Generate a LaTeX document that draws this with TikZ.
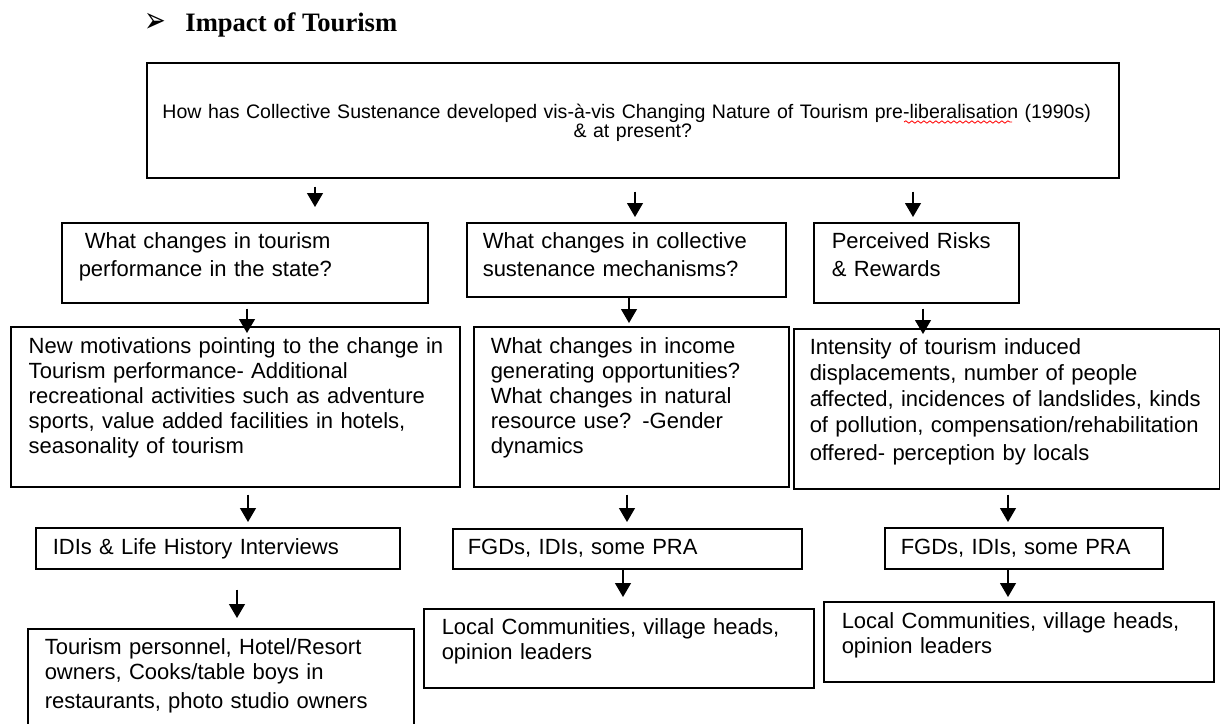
\documentclass[tikz,border=0pt]{standalone}
\usepackage{fontspec}
\setmainfont{Liberation Sans}
\newfontfamily\titlefont{Liberation Serif}
\newfontfamily\symfont{DejaVu Sans}
\usetikzlibrary{arrows.meta,decorations.pathmorphing}
\begin{document}
\begin{tikzpicture}[x=0.5pt,y=-0.5pt,
  box/.style={draw, line width=0.75pt, anchor=north west, inner ysep=0pt, align=left},
  bodytext/.style={font=\fontsize{11}{12.5}\selectfont},
  headtext/.style={font=\fontsize{11}{14}\selectfont},
  arr/.style={line width=0.6pt, -{Triangle[width=8pt,length=7pt]}},
  squiggle/.style={red, line width=0.4pt, decorate, decoration={snake, amplitude=0.6pt, segment length=3pt}}
  ]
\useasboundingbox (0,0) rectangle (1220,723);
\clip (0,0) rectangle (1220,723);

% title
\node[anchor=center, inner sep=0pt, font=\symfont\fontsize{18}{20}\selectfont] (bullet) at (155,22.5) {\scalebox{0.72}[1]{➢}};
\node[anchor=base west, inner sep=0pt, font=\titlefont\bfseries\fontsize{13.3}{16}\selectfont] (title) at (185,31) {Impact of Tourism};

% top question
\node[box, align=center, text width=486pt, inner xsep=0pt, text height=28pt, text depth=29.5pt,
      font={\fontsize{9.77}{9.5}\selectfont\lineskiplimit=-20pt}] (T) at (146,62)
  {How has Collective Sustenance developed vis-à-vis Changing Nature of Tourism pre-liberalisation (1990s)\kern6pt\\ \& at present?};
\draw[squiggle] (904,122) -- (1012,122);

% level 1
\node[box, headtext, minimum width=183pt, text width=166pt, inner xsep=8.5pt, text height=13pt, text depth=27pt] (A1) at (61,222)
  {\hspace*{3pt}What changes in tourism\\performance in the state?};
\node[box, headtext, minimum width=159.5pt, text width=143.5pt, inner xsep=8pt, text height=13pt, text depth=24pt] (B1) at (466,222)
  {What changes in collective\\sustenance mechanisms?};
\node[box, headtext, minimum width=102.5pt, text width=84.5pt, inner xsep=9pt, text height=13pt, text depth=27pt] (C1) at (813,222)
  {Perceived Risks\\\& Rewards};

% level 2
\node[box, bodytext, minimum width=224.5pt, text width=206.5pt, inner xsep=9pt, text height=13.5pt, text depth=66.5pt] (A2) at (10,326)
  {\mbox{New motivations pointing to the change in}\\\mbox{Tourism performance- Additional}\\\mbox{recreational activities such as adventure}\\\mbox{sports, value added facilities in hotels,}\\\mbox{seasonality of tourism}};
\node[box, bodytext, minimum width=157.5pt, text width=140.5pt, inner xsep=8.5pt, text height=13.5pt, text depth=66.5pt] (B2) at (473,326)
  {\mbox{What changes in income}\\\mbox{generating opportunities?}\\\mbox{What changes in natural}\\\mbox{resource use? -Gender}\\dynamics};
\node[box, font=\fontsize{11}{13}\selectfont, minimum width=213pt, text width=197pt, inner xsep=8pt, text height=13pt, text depth=67pt] (C2) at (793,328)
  {\mbox{Intensity of tourism induced}\\\mbox{displacements, number of people}\\\mbox{affected, incidences of landslides, kinds}\\\mbox{of pollution, compensation/rehabilitation}\\[1pt]\mbox{offered- perception by locals}};

% level 3
\node[box, bodytext, minimum width=182pt, text width=165pt, inner xsep=8.5pt, text height=13.5pt, text depth=7pt] (A3) at (35,527)
  {IDIs \& Life History Interviews};
\node[box, bodytext, minimum width=174.5pt, text width=159.5pt, inner xsep=7.5pt, text height=13pt, text depth=7pt] (B3) at (452,528)
  {FGDs, IDIs, some PRA};
\node[box, bodytext, minimum width=139pt, text width=123pt, inner xsep=8pt, text height=13.5pt, text depth=7pt] (C3) at (884,527)
  {FGDs, IDIs, some PRA};

% level 4
\node[box, bodytext, minimum width=193pt, text width=176pt, inner xsep=8.5pt, text height=13pt, text depth=42pt] (A4) at (27,628)
  {\mbox{Tourism personnel, Hotel/Resort}\\\mbox{owners, Cooks/table boys in}\\[2pt]\mbox{restaurants, photo studio owners}};
\node[box, bodytext, minimum width=195pt, text width=177pt, inner xsep=9pt, text height=13pt, text depth=26.5pt] (B4) at (423,608)
  {\mbox{Local Communities, village heads,}\\opinion leaders};
\node[box, bodytext, minimum width=195pt, text width=177pt, inner xsep=9pt, text height=13.5pt, text depth=26.5pt] (C4) at (823,601)
  {\mbox{Local Communities, village heads,}\\opinion leaders};

% arrow x positions
\coordinate (xTA) at (315,0);
\coordinate (xTB) at (635,0);
\coordinate (xTC) at (913,0);
\coordinate (xA12) at (247,0);
\coordinate (xB12) at (629,0);
\coordinate (xC12) at (923,0);
\coordinate (xA23) at (248,0);
\coordinate (xB23) at (627,0);
\coordinate (xC23) at (1008,0);
\coordinate (xA34) at (237,0);
\coordinate (xB34) at (623,0);
\coordinate (xC34) at (1008,0);

% connectors
\draw[arr, shorten <=4pt, shorten >=7.5pt] (T.south -| xTA) -- (A1.north -| xTA);
\draw[arr, shorten <=6.5pt, shorten >=2.5pt] (T.south -| xTB) -- (B1.north -| xTB);
\draw[arr, shorten <=6.5pt, shorten >=2.5pt] (T.south -| xTC) -- (C1.north -| xTC);

\draw[arr, shorten <=2.5pt, shorten >=-3.5pt] (A1.south -| xA12) -- (A2.north -| xA12);
\draw[arr, shorten >=1.5pt] (B1.south -| xB12) -- (B2.north -| xB12);
\draw[arr, shorten <=2.5pt, shorten >=-3pt] (C1.south -| xC12) -- (C2.north -| xC12);

\draw[arr, shorten <=3.5pt, shorten >=2.5pt] (A2.south -| xA23) -- (A3.north -| xA23);
\draw[arr, shorten <=3.5pt, shorten >=3pt] (B2.south -| xB23) -- (B3.north -| xB23);
\draw[arr, shorten <=2.5pt, shorten >=2.5pt] (C2.south -| xC23) -- (C3.north -| xC23);

\draw[arr, shorten <=10pt, shorten >=5pt] (A3.south -| xA34) -- (A4.north -| xA34);
\draw[arr, shorten >=5.5pt] (B3.south -| xB34) -- (B4.north -| xB34);
\draw[arr, shorten >=2pt] (C3.south -| xC34) -- (C4.north -| xC34);
\end{tikzpicture}
\end{document}
